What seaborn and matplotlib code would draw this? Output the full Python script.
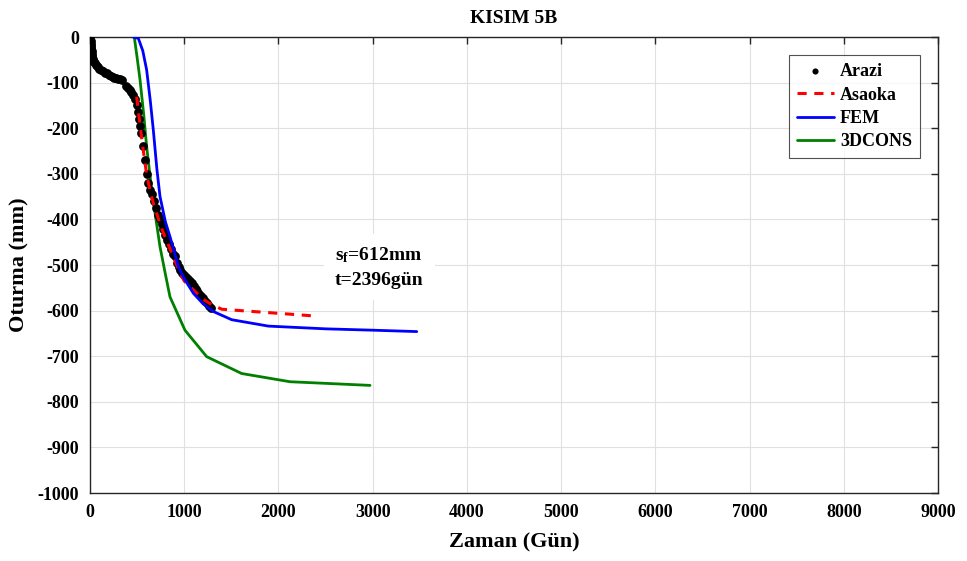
import matplotlib
matplotlib.use("Agg")
import matplotlib.pyplot as plt
import seaborn as sns
import pandas as pd

# ---- data ----
arazi_x = [5, 8, 10, 12, 15, 18, 20, 25, 30, 35, 40, 50, 60, 70, 80, 100, 120, 140, 160, 180,
           200, 220, 240, 260, 280, 300, 320, 340,
           380, 400, 420, 440, 460, 480, 500, 510, 520, 530, 540, 560, 580, 600, 620, 640, 660,
           680, 700, 720, 740, 760, 780, 800, 820, 840, 860, 880, 900, 920, 940, 960, 980, 1000,
           1020, 1040, 1060, 1080, 1100, 1120, 1140, 1160, 1180, 1200, 1220, 1240, 1260, 1280]
arazi_y = [-2, -8, -15, -20, -25, -30, -38, -42, -48, -52, -55, -58, -62, -64, -66, -70, -72, -75, -78, -80,
           -83, -85, -87, -89, -90, -92, -93, -94,
           -108, -112, -116, -120, -127, -135, -150, -165, -180, -195, -210, -240, -270, -300, -320, -335, -345,
           -360, -375, -390, -400, -410, -420, -435, -445, -455, -465, -475, -480, -495, -505, -512, -518, -522,
           -526, -530, -535, -540, -546, -552, -558, -563, -568, -572, -578, -584, -589, -594]

asaoka_x = [495, 520, 560, 600, 640, 680, 720, 760, 800, 850, 900, 950, 1000, 1100, 1200, 1300, 1400,
            1600, 1800, 2000, 2200, 2396]
asaoka_y = [-131, -175, -240, -300, -340, -370, -395, -420, -440, -465, -490, -515, -535, -555, -575, -588,
            -597, -600, -603, -606, -609, -612]

fem_x = [456, 513, 560, 601, 640, 672, 710, 743, 800, 849, 900, 938, 1000, 1097, 1200, 1309, 1504, 1893,
         2500, 3008, 3468]
fem_y = [0, -3, -30, -72, -140, -204, -290, -350, -405, -438, -475, -504, -530, -562, -585, -602, -620, -634,
         -640, -643, -646]

cons_x = [470, 500, 531, 570, 601, 655, 700, 743, 800, 849, 1008, 1238, 1610, 2123, 2972]
cons_y = [0, -45, -94, -170, -240, -336, -400, -460, -520, -570, -643, -701, -738, -756, -764]

title = "KISIM 5B"
xlabel = "Zaman (Gün)"
ylabel = "Oturma (mm)"
annot = r"s$_\mathbf{f}$=612mm" + "\n" + "t=2396gün"

# ---- style ----
sns.set_style("white")
plt.rcParams['font.family'] = ['Liberation Serif', 'DejaVu Serif']
plt.rcParams['font.weight'] = 'bold'
plt.rcParams['text.color'] = 'black'
plt.rcParams['axes.labelcolor'] = 'black'
plt.rcParams['axes.unicode_minus'] = False
plt.rcParams['mathtext.fontset'] = 'custom'
plt.rcParams['mathtext.rm'] = 'Liberation Serif:bold'
plt.rcParams['mathtext.bf'] = 'Liberation Serif:bold'
plt.rcParams['mathtext.it'] = 'Liberation Serif:bold'

fig = plt.figure(figsize=(9.67, 5.61), dpi=100)
ax = fig.add_axes([90/967, 1-493/561, (938-90)/967, (493-37)/561])

df_a = pd.DataFrame({"x": arazi_x, "y": arazi_y})
df_s = pd.DataFrame({"x": asaoka_x, "y": asaoka_y})
df_f = pd.DataFrame({"x": fem_x, "y": fem_y})
df_c = pd.DataFrame({"x": cons_x, "y": cons_y})

sns.scatterplot(data=df_a, x="x", y="y", ax=ax, color="black", s=40, edgecolor="black",
                linewidth=0, label="Arazi", zorder=3)
sns.lineplot(data=df_s, x="x", y="y", ax=ax, color="#ff0000", linewidth=2.2, dashes=False,
             linestyle=(0, (3, 2.5)), label="Asaoka", sort=False, zorder=4)
sns.lineplot(data=df_f, x="x", y="y", ax=ax, color="#0000ff", linewidth=2.0, label="FEM", sort=False, zorder=5)
sns.lineplot(data=df_c, x="x", y="y", ax=ax, color="#008000", linewidth=2.0, label="3DCONS", sort=False, zorder=2)

ax.set_xlim(0, 9000)
ax.set_ylim(-1000, 0)
ax.set_xticks(range(0, 9001, 1000))
ax.set_yticks(range(-1000, 1, 100))
ax.tick_params(direction="in", top=True, right=True, length=5, width=1, labelsize=13,
               colors="#262626", labelcolor="black")
ax.tick_params(axis="x", pad=8)
ax.tick_params(axis="y", pad=8)
for lab in ax.get_xticklabels() + ax.get_yticklabels():
    lab.set_fontweight("bold")
ax.grid(True, color="#e0e0e0", linewidth=0.8)
for sp in ax.spines.values():
    sp.set_color("#262626")
    sp.set_linewidth(1.0)

ax.set_title(title, fontsize=14, fontweight="bold", pad=10, color="black")
ax.set_xlabel(xlabel, fontsize=16, fontweight="bold", labelpad=8)
ax.set_ylabel(ylabel, fontsize=16, fontweight="bold", labelpad=6)

ax.text(2600, -505, annot, fontsize=14, fontweight="bold", ha="left", va="center",
        linespacing=1.5, bbox=dict(facecolor="white", edgecolor="none", pad=8), zorder=6)

leg = ax.legend(loc="upper right", frameon=True, fancybox=False,
                edgecolor="#262626", borderaxespad=1.0, handlelength=2.0,
                handletextpad=0.35, borderpad=0.45, labelspacing=0.35,
                markerscale=0.7, prop={"weight": "bold", "size": 13})
for t in leg.get_texts():
    t.set_color("black")
leg.get_frame().set_linewidth(0.8)

fig.savefig("out.png", dpi=100)
